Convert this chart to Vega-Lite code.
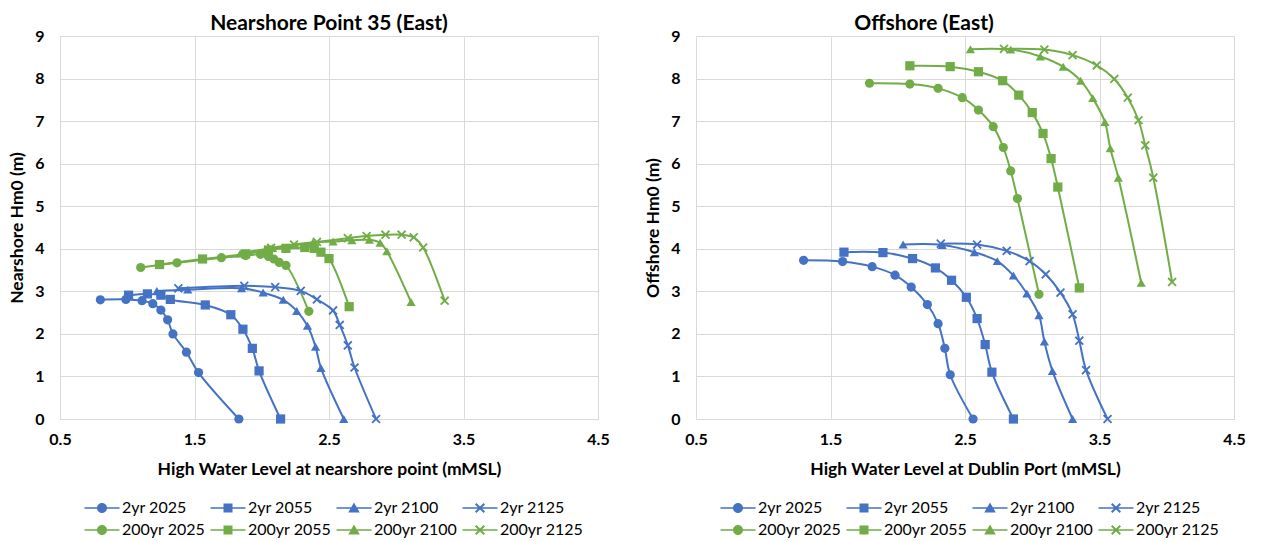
{
"$schema": "https://vega.github.io/schema/vega-lite/v6.json",
"background": "white",
"padding": {"left": 8, "top": 12, "right": 10, "bottom": 2},
"spacing": 34,
"datasets": {
"N": [
{"s":"2yr 2025","i":1,"x":0.80,"y":2.80},{"s":"2yr 2025","i":2,"x":0.99,"y":2.81},{"s":"2yr 2025","i":3,"x":1.11,"y":2.78},{"s":"2yr 2025","i":4,"x":1.19,"y":2.71},{"s":"2yr 2025","i":5,"x":1.25,"y":2.56},{"s":"2yr 2025","i":6,"x":1.30,"y":2.33},{"s":"2yr 2025","i":7,"x":1.34,"y":2.00},{"s":"2yr 2025","i":8,"x":1.44,"y":1.57},{"s":"2yr 2025","i":9,"x":1.53,"y":1.09},{"s":"2yr 2025","i":10,"x":1.83,"y":0},
{"s":"2yr 2055","i":1,"x":1.01,"y":2.91},{"s":"2yr 2055","i":2,"x":1.15,"y":2.94},{"s":"2yr 2055","i":3,"x":1.25,"y":2.91},{"s":"2yr 2055","i":4,"x":1.32,"y":2.81},{"s":"2yr 2055","i":5,"x":1.58,"y":2.68},{"s":"2yr 2055","i":6,"x":1.77,"y":2.45},{"s":"2yr 2055","i":7,"x":1.86,"y":2.11},{"s":"2yr 2055","i":8,"x":1.93,"y":1.66},{"s":"2yr 2055","i":9,"x":1.98,"y":1.13},{"s":"2yr 2055","i":10,"x":2.14,"y":0},
{"s":"2yr 2100","i":1,"x":1.22,"y":3.01},{"s":"2yr 2100","i":2,"x":1.45,"y":3.04},{"s":"2yr 2100","i":3,"x":1.85,"y":3.07},{"s":"2yr 2100","i":4,"x":2.01,"y":2.97},{"s":"2yr 2100","i":5,"x":2.16,"y":2.80},{"s":"2yr 2100","i":6,"x":2.26,"y":2.54},{"s":"2yr 2100","i":7,"x":2.34,"y":2.19},{"s":"2yr 2100","i":8,"x":2.40,"y":1.70},{"s":"2yr 2100","i":9,"x":2.44,"y":1.20},{"s":"2yr 2100","i":10,"x":2.61,"y":0},
{"s":"2yr 2125","i":1,"x":1.38,"y":3.07},{"s":"2yr 2125","i":2,"x":1.87,"y":3.13},{"s":"2yr 2125","i":3,"x":2.10,"y":3.10},{"s":"2yr 2125","i":4,"x":2.29,"y":3.01},{"s":"2yr 2125","i":5,"x":2.41,"y":2.81},{"s":"2yr 2125","i":6,"x":2.53,"y":2.55},{"s":"2yr 2125","i":7,"x":2.58,"y":2.21},{"s":"2yr 2125","i":8,"x":2.64,"y":1.73},{"s":"2yr 2125","i":9,"x":2.69,"y":1.21},{"s":"2yr 2125","i":10,"x":2.85,"y":0},
{"s":"200yr 2025","i":1,"x":1.10,"y":3.56},{"s":"200yr 2025","i":2,"x":1.37,"y":3.67},{"s":"200yr 2025","i":3,"x":1.70,"y":3.79},{"s":"200yr 2025","i":4,"x":1.88,"y":3.84},{"s":"200yr 2025","i":5,"x":1.99,"y":3.87},{"s":"200yr 2025","i":6,"x":2.05,"y":3.82},{"s":"200yr 2025","i":7,"x":2.09,"y":3.76},{"s":"200yr 2025","i":8,"x":2.13,"y":3.68},{"s":"200yr 2025","i":9,"x":2.18,"y":3.61},{"s":"200yr 2025","i":10,"x":2.35,"y":2.53},
{"s":"200yr 2055","i":1,"x":1.24,"y":3.63},{"s":"200yr 2055","i":2,"x":1.56,"y":3.76},{"s":"200yr 2055","i":3,"x":1.88,"y":3.88},{"s":"200yr 2055","i":4,"x":2.05,"y":3.97},{"s":"200yr 2055","i":5,"x":2.18,"y":4.01},{"s":"200yr 2055","i":6,"x":2.32,"y":4.03},{"s":"200yr 2055","i":7,"x":2.39,"y":4.01},{"s":"200yr 2055","i":8,"x":2.44,"y":3.92},{"s":"200yr 2055","i":9,"x":2.50,"y":3.77},{"s":"200yr 2055","i":10,"x":2.65,"y":2.64},
{"s":"200yr 2100","i":1,"x":1.84,"y":3.89},{"s":"200yr 2100","i":2,"x":2.08,"y":4.02},{"s":"200yr 2100","i":3,"x":2.25,"y":4.08},{"s":"200yr 2100","i":4,"x":2.38,"y":4.15},{"s":"200yr 2100","i":5,"x":2.53,"y":4.17},{"s":"200yr 2100","i":6,"x":2.67,"y":4.20},{"s":"200yr 2100","i":7,"x":2.80,"y":4.21},{"s":"200yr 2100","i":8,"x":2.88,"y":4.14},{"s":"200yr 2100","i":9,"x":2.93,"y":3.94},{"s":"200yr 2100","i":10,"x":3.11,"y":2.75},
{"s":"200yr 2125","i":1,"x":2.07,"y":4.02},{"s":"200yr 2125","i":2,"x":2.24,"y":4.10},{"s":"200yr 2125","i":3,"x":2.41,"y":4.16},{"s":"200yr 2125","i":4,"x":2.64,"y":4.25},{"s":"200yr 2125","i":5,"x":2.78,"y":4.30},{"s":"200yr 2125","i":6,"x":2.92,"y":4.33},{"s":"200yr 2125","i":7,"x":3.04,"y":4.33},{"s":"200yr 2125","i":8,"x":3.13,"y":4.27},{"s":"200yr 2125","i":9,"x":3.20,"y":4.03},{"s":"200yr 2125","i":10,"x":3.36,"y":2.78}
],
"O": [
{"s":"2yr 2025","i":1,"x":1.30,"y":3.73},{"s":"2yr 2025","i":2,"x":1.59,"y":3.70},{"s":"2yr 2025","i":3,"x":1.81,"y":3.58},{"s":"2yr 2025","i":4,"x":1.98,"y":3.38},{"s":"2yr 2025","i":5,"x":2.10,"y":3.10},{"s":"2yr 2025","i":6,"x":2.22,"y":2.69},{"s":"2yr 2025","i":7,"x":2.30,"y":2.24},{"s":"2yr 2025","i":8,"x":2.35,"y":1.66},{"s":"2yr 2025","i":9,"x":2.39,"y":1.04},{"s":"2yr 2025","i":10,"x":2.56,"y":0},
{"s":"2yr 2055","i":1,"x":1.60,"y":3.92},{"s":"2yr 2055","i":2,"x":1.89,"y":3.91},{"s":"2yr 2055","i":3,"x":2.11,"y":3.77},{"s":"2yr 2055","i":4,"x":2.28,"y":3.55},{"s":"2yr 2055","i":5,"x":2.40,"y":3.26},{"s":"2yr 2055","i":6,"x":2.51,"y":2.86},{"s":"2yr 2055","i":7,"x":2.59,"y":2.36},{"s":"2yr 2055","i":8,"x":2.65,"y":1.75},{"s":"2yr 2055","i":9,"x":2.70,"y":1.10},{"s":"2yr 2055","i":10,"x":2.86,"y":0},
{"s":"2yr 2100","i":1,"x":2.04,"y":4.10},{"s":"2yr 2100","i":2,"x":2.33,"y":4.09},{"s":"2yr 2100","i":3,"x":2.57,"y":3.92},{"s":"2yr 2100","i":4,"x":2.74,"y":3.71},{"s":"2yr 2100","i":5,"x":2.86,"y":3.37},{"s":"2yr 2100","i":6,"x":2.96,"y":2.95},{"s":"2yr 2100","i":7,"x":3.05,"y":2.44},{"s":"2yr 2100","i":8,"x":3.09,"y":1.82},{"s":"2yr 2100","i":9,"x":3.15,"y":1.13},{"s":"2yr 2100","i":10,"x":3.30,"y":0},
{"s":"2yr 2125","i":1,"x":2.32,"y":4.12},{"s":"2yr 2125","i":2,"x":2.59,"y":4.10},{"s":"2yr 2125","i":3,"x":2.81,"y":3.95},{"s":"2yr 2125","i":4,"x":2.98,"y":3.71},{"s":"2yr 2125","i":5,"x":3.10,"y":3.40},{"s":"2yr 2125","i":6,"x":3.21,"y":2.97},{"s":"2yr 2125","i":7,"x":3.30,"y":2.46},{"s":"2yr 2125","i":8,"x":3.35,"y":1.84},{"s":"2yr 2125","i":9,"x":3.40,"y":1.15},{"s":"2yr 2125","i":10,"x":3.56,"y":0},
{"s":"200yr 2025","i":1,"x":1.79,"y":7.89},{"s":"200yr 2025","i":2,"x":2.09,"y":7.87},{"s":"200yr 2025","i":3,"x":2.30,"y":7.77},{"s":"200yr 2025","i":4,"x":2.48,"y":7.55},{"s":"200yr 2025","i":5,"x":2.60,"y":7.26},{"s":"200yr 2025","i":6,"x":2.71,"y":6.87},{"s":"200yr 2025","i":7,"x":2.785,"y":6.38},{"s":"200yr 2025","i":8,"x":2.84,"y":5.83},{"s":"200yr 2025","i":9,"x":2.89,"y":5.18},{"s":"200yr 2025","i":10,"x":3.05,"y":2.93},
{"s":"200yr 2055","i":1,"x":2.09,"y":8.30},{"s":"200yr 2055","i":2,"x":2.39,"y":8.28},{"s":"200yr 2055","i":3,"x":2.60,"y":8.16},{"s":"200yr 2055","i":4,"x":2.78,"y":7.95},{"s":"200yr 2055","i":5,"x":2.90,"y":7.61},{"s":"200yr 2055","i":6,"x":3.00,"y":7.20},{"s":"200yr 2055","i":7,"x":3.08,"y":6.71},{"s":"200yr 2055","i":8,"x":3.14,"y":6.12},{"s":"200yr 2055","i":9,"x":3.19,"y":5.45},{"s":"200yr 2055","i":10,"x":3.35,"y":3.08},
{"s":"200yr 2100","i":1,"x":2.54,"y":8.69},{"s":"200yr 2100","i":2,"x":2.84,"y":8.68},{"s":"200yr 2100","i":3,"x":3.06,"y":8.52},{"s":"200yr 2100","i":4,"x":3.23,"y":8.28},{"s":"200yr 2100","i":5,"x":3.36,"y":7.95},{"s":"200yr 2100","i":6,"x":3.45,"y":7.54},{"s":"200yr 2100","i":7,"x":3.54,"y":6.98},{"s":"200yr 2100","i":8,"x":3.58,"y":6.36},{"s":"200yr 2100","i":9,"x":3.64,"y":5.67},{"s":"200yr 2100","i":10,"x":3.81,"y":3.20},
{"s":"200yr 2125","i":1,"x":2.79,"y":8.70},{"s":"200yr 2125","i":2,"x":3.09,"y":8.68},{"s":"200yr 2125","i":3,"x":3.30,"y":8.55},{"s":"200yr 2125","i":4,"x":3.48,"y":8.31},{"s":"200yr 2125","i":5,"x":3.61,"y":7.99},{"s":"200yr 2125","i":6,"x":3.71,"y":7.55},{"s":"200yr 2125","i":7,"x":3.79,"y":7.02},{"s":"200yr 2125","i":8,"x":3.84,"y":6.43},{"s":"200yr 2125","i":9,"x":3.90,"y":5.67},{"s":"200yr 2125","i":10,"x":4.04,"y":3.22}
]
},
"hconcat": [
{
"width": 538, "height": 383,
"title": {"text": "Nearshore Point 35 (East)", "anchor": "middle", "frame": "group", "offset": 0, "dy": 6},
"data": {"name": "N"},
"encoding": {
"x": {"field": "x", "type": "quantitative", "scale": {"domain": [0.5, 4.5], "nice": false, "zero": false}, "axis": {"values": [0.5, 1.5, 2.5, 3.5, 4.5], "format": ".1f", "title": "High Water Level at nearshore point (mMSL)"}},
"y": {"field": "y", "type": "quantitative", "scale": {"domain": [0, 9], "nice": false}, "axis": {"values": [0,1,2,3,4,5,6,7,8,9], "title": "Nearshore Hm0 (m)"}},
"color": {"field": "s", "type": "nominal", "scale": {"domain": ["2yr 2025","2yr 2055","2yr 2100","2yr 2125","200yr 2025","200yr 2055","200yr 2100","200yr 2125"], "range": ["#4472C4","#4472C4","#4472C4","#4472C4","#70AD47","#70AD47","#70AD47","#70AD47"]}, "legend": null},
"order": {"field": "i", "type": "quantitative"}
},
"layer": [
{"mark": {"type": "line", "interpolate": "catmull-rom", "strokeWidth": 2}},
{"mark": {"type": "point", "filled": true, "size": 85, "opacity": 1},
 "encoding": {"shape": {"field": "s", "type": "nominal", "scale": {"domain": ["2yr 2025","2yr 2055","2yr 2100","2yr 2125","200yr 2025","200yr 2055","200yr 2100","200yr 2125"], "range": ["circle","square","triangle-up","M-1,-0.72L-0.72,-1L0,-0.28L0.72,-1L1,-0.72L0.28,0L1,0.72L0.72,1L0,0.28L-0.72,1L-1,0.72L-0.28,0Z","circle","square","triangle-up","M-1,-0.72L-0.72,-1L0,-0.28L0.72,-1L1,-0.72L0.28,0L1,0.72L0.72,1L0,0.28L-0.72,1L-1,0.72L-0.28,0Z"]}, "legend": null}}},
{"transform": [{"filter": "datum.i < 0"}],
 "mark": {"type": "point", "filled": true, "size": 100, "opacity": 1},
 "encoding": {
  "color": {"field": "s", "type": "nominal", "scale": {"domain": ["2yr 2025","2yr 2055","2yr 2100","2yr 2125","200yr 2025","200yr 2055","200yr 2100","200yr 2125"], "range": ["#4472C4","#4472C4","#4472C4","#4472C4","#70AD47","#70AD47","#70AD47","#70AD47"]}, "legend": {"title": null, "orient": "none", "direction": "horizontal", "legendX": 34, "legendY": 464, "columns": 4}},
  "shape": {"field": "s", "type": "nominal", "scale": {"domain": ["2yr 2025","2yr 2055","2yr 2100","2yr 2125","200yr 2025","200yr 2055","200yr 2100","200yr 2125"], "range": ["M-3.5,-0.13H3.5V0.13H-3.5Z M-1,0A1,1 0 1,1 1,0A1,1 0 1,1 -1,0Z","M-3.5,-0.13H3.5V0.13H-3.5Z M-0.9,-0.9H0.9V0.9H-0.9Z","M-3.5,-0.13H3.5V0.13H-3.5Z M0,-1.1L1.15,0.9L-1.15,0.9Z","M-3.5,-0.13H3.5V0.13H-3.5Z M-1,-0.72L-0.72,-1L0,-0.28L0.72,-1L1,-0.72L0.28,0L1,0.72L0.72,1L0,0.28L-0.72,1L-1,0.72L-0.28,0Z","M-3.5,-0.13H3.5V0.13H-3.5Z M-1,0A1,1 0 1,1 1,0A1,1 0 1,1 -1,0Z","M-3.5,-0.13H3.5V0.13H-3.5Z M-0.9,-0.9H0.9V0.9H-0.9Z","M-3.5,-0.13H3.5V0.13H-3.5Z M0,-1.1L1.15,0.9L-1.15,0.9Z","M-3.5,-0.13H3.5V0.13H-3.5Z M-1,-0.72L-0.72,-1L0,-0.28L0.72,-1L1,-0.72L0.28,0L1,0.72L0.72,1L0,0.28L-0.72,1L-1,0.72L-0.28,0Z"]}, "legend": {"title": null, "orient": "none", "direction": "horizontal", "legendX": 34, "legendY": 464, "columns": 4}}
 }}
],
"resolve": {"scale": {"shape": "independent", "color": "independent"}}
},
{
"width": 538, "height": 383,
"title": {"text": "Offshore (East)", "anchor": "middle", "frame": "group", "offset": 0, "dy": 6, "dx": -41},
"data": {"name": "O"},
"encoding": {
"x": {"field": "x", "type": "quantitative", "scale": {"domain": [0.5, 4.5], "nice": false, "zero": false}, "axis": {"values": [0.5, 1.5, 2.5, 3.5, 4.5], "format": ".1f", "title": "High Water Level at Dublin Port (mMSL)"}},
"y": {"field": "y", "type": "quantitative", "scale": {"domain": [0, 9], "nice": false}, "axis": {"values": [0,1,2,3,4,5,6,7,8,9], "title": "Offshore Hm0 (m)"}},
"color": {"field": "s", "type": "nominal", "scale": {"domain": ["2yr 2025","2yr 2055","2yr 2100","2yr 2125","200yr 2025","200yr 2055","200yr 2100","200yr 2125"], "range": ["#4472C4","#4472C4","#4472C4","#4472C4","#70AD47","#70AD47","#70AD47","#70AD47"]}, "legend": null},
"order": {"field": "i", "type": "quantitative"}
},
"layer": [
{"mark": {"type": "line", "interpolate": "catmull-rom", "strokeWidth": 2}},
{"mark": {"type": "point", "filled": true, "size": 85, "opacity": 1},
 "encoding": {"shape": {"field": "s", "type": "nominal", "scale": {"domain": ["2yr 2025","2yr 2055","2yr 2100","2yr 2125","200yr 2025","200yr 2055","200yr 2100","200yr 2125"], "range": ["circle","square","triangle-up","M-1,-0.72L-0.72,-1L0,-0.28L0.72,-1L1,-0.72L0.28,0L1,0.72L0.72,1L0,0.28L-0.72,1L-1,0.72L-0.28,0Z","circle","square","triangle-up","M-1,-0.72L-0.72,-1L0,-0.28L0.72,-1L1,-0.72L0.28,0L1,0.72L0.72,1L0,0.28L-0.72,1L-1,0.72L-0.28,0Z"]}, "legend": null}}},
{"transform": [{"filter": "datum.i < 0"}],
 "mark": {"type": "point", "filled": true, "size": 100, "opacity": 1},
 "encoding": {
  "color": {"field": "s", "type": "nominal", "scale": {"domain": ["2yr 2025","2yr 2055","2yr 2100","2yr 2125","200yr 2025","200yr 2055","200yr 2100","200yr 2125"], "range": ["#4472C4","#4472C4","#4472C4","#4472C4","#70AD47","#70AD47","#70AD47","#70AD47"]}, "legend": {"title": null, "orient": "none", "direction": "horizontal", "legendX": 34, "legendY": 464, "columns": 4}},
  "shape": {"field": "s", "type": "nominal", "scale": {"domain": ["2yr 2025","2yr 2055","2yr 2100","2yr 2125","200yr 2025","200yr 2055","200yr 2100","200yr 2125"], "range": ["M-3.5,-0.13H3.5V0.13H-3.5Z M-1,0A1,1 0 1,1 1,0A1,1 0 1,1 -1,0Z","M-3.5,-0.13H3.5V0.13H-3.5Z M-0.9,-0.9H0.9V0.9H-0.9Z","M-3.5,-0.13H3.5V0.13H-3.5Z M0,-1.1L1.15,0.9L-1.15,0.9Z","M-3.5,-0.13H3.5V0.13H-3.5Z M-1,-0.72L-0.72,-1L0,-0.28L0.72,-1L1,-0.72L0.28,0L1,0.72L0.72,1L0,0.28L-0.72,1L-1,0.72L-0.28,0Z","M-3.5,-0.13H3.5V0.13H-3.5Z M-1,0A1,1 0 1,1 1,0A1,1 0 1,1 -1,0Z","M-3.5,-0.13H3.5V0.13H-3.5Z M-0.9,-0.9H0.9V0.9H-0.9Z","M-3.5,-0.13H3.5V0.13H-3.5Z M0,-1.1L1.15,0.9L-1.15,0.9Z","M-3.5,-0.13H3.5V0.13H-3.5Z M-1,-0.72L-0.72,-1L0,-0.28L0.72,-1L1,-0.72L0.28,0L1,0.72L0.72,1L0,0.28L-0.72,1L-1,0.72L-0.28,0Z"]}, "legend": {"title": null, "orient": "none", "direction": "horizontal", "legendX": 34, "legendY": 464, "columns": 4}}
 }}
],
"resolve": {"scale": {"shape": "independent", "color": "independent"}}
}
],
"resolve": {"scale": {"color": "independent", "shape": "independent"}, "legend": {"color": "independent", "shape": "independent"}},
"config": {
"font": "Lato",
"view": {"stroke": "#d9d9d9", "strokeWidth": 1},
"axis": {"labelFont": "Lato", "labelFontWeight": "bold", "labelFontSize": 16, "labelColor": "#000", "titleFont": "Lato", "titleFontSize": 17.5, "titleFontWeight": "bold", "titleColor": "#000", "gridColor": "#d9d9d9", "gridWidth": 1, "domainColor": "#d9d9d9", "ticks": false, "labelFlush": false},
"axisX": {"labelPadding": 12, "titlePadding": 13},
"axisY": {"labelPadding": 16, "titlePadding": 8},
"legend": {"labelFont": "Lato", "labelFontSize": 16, "labelColor": "#000", "symbolSize": 100, "columnPadding": 4, "rowPadding": 6, "labelOffset": 12, "symbolStrokeWidth": 0, "symbolOpacity": 1},
"title": {"font": "Lato", "fontSize": 21, "fontWeight": "bold", "color": "#000"}
}
}
